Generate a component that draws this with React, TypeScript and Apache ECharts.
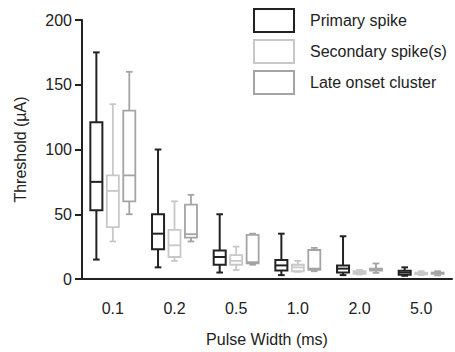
import React, { useEffect, useRef } from "react";
import * as echarts from "echarts";

const categories = ["0.1", "0.2", "0.5", "1.0", "2.0", "5.0"];
const seriesNames = ["Primary spike", "Secondary spike(s)", "Late onset cluster"];
// [min, Q1, median, Q3, max]
const primary = [
  [15, 53, 75, 121, 175],
  [9, 23, 35, 50, 100],
  [5, 11, 17, 22, 50],
  [3, 6.6, 10.5, 14.7, 35],
  [3, 5, 8, 10.5, 33],
  [2.5, 3.3, 5, 6.4, 9],
];
const secondary = [
  [29, 40, 68, 80, 135],
  [14, 17, 26, 38, 60],
  [7, 11, 14, 18.5, 25],
  [5.5, 6, 9, 11, 14],
  [3.5, 4, 5, 6, 7],
  [3, 3.5, 4.3, 5, 6],
];
const late = [
  [50, 60, 80, 130, 160],
  [29, 32, 34.6, 57.5, 65],
  [11, 12, 13, 34, 35],
  [6, 7, 8, 22.4, 24],
  [4.7, 6.5, 7, 8, 12],
  [2.8, 4, 4.5, 5, 6],
];
const yTicks = [0, 50, 100, 150, 200];

const colors = ["#222222", "#c8c8c8", "#a4a4a4"];
const offsets = [-0.267, 0, 0.267];
const FONT = "Liberation Sans, Arial, Helvetica, sans-serif";

function makeSeries(name: string, values: number[][], idx: number) {
  return {
    type: "custom",
    name,
    data: values.map((v, i) => [i, ...v]),
    encode: { x: 0, y: [1, 2, 3, 4, 5] },
    renderItem: (params: any, api: any) => {
      const xi = api.value(0);
      const band = api.size([1, 0])[0];
      const center = api.coord([xi, 0])[0] + offsets[idx] * band;
      const w = band * 0.195;
      const cap = w * 0.55;
      const y = (k: number) => api.coord([xi, api.value(k)])[1];
      const yMin = y(1), yQ1 = y(2), yMed = y(3), yQ3 = y(4), yMax = y(5);
      const style = {
        stroke: colors[idx],
        lineWidth: idx === 0 ? 2 : 1.8,
        fill: "none",
      };
      const ln = (x1: number, y1: number, x2: number, y2: number) => ({
        type: "line",
        shape: { x1, y1, x2, y2 },
        style,
      });
      return {
        type: "group",
        children: [
          ln(center, yMax, center, yQ3),
          ln(center, yQ1, center, yMin),
          ln(center - cap / 2, yMax, center + cap / 2, yMax),
          ln(center - cap / 2, yMin, center + cap / 2, yMin),
          {
            type: "rect",
            shape: { x: center - w / 2, y: yQ3, width: w, height: yQ1 - yQ3 },
            style,
          },
          ln(center - w / 2, yMed, center + w / 2, yMed),
        ],
      };
    },
  };
}

export default function App() {
  const ref = useRef<HTMLDivElement>(null);
  useEffect(() => {
    if (!ref.current) return;
    const chart = echarts.init(ref.current, undefined, { renderer: "svg" });
    const axisColor = "#222222";
    chart.setOption({
      animation: false,
      backgroundColor: "#ffffff",
      textStyle: { fontFamily: FONT },
      grid: { left: 82, top: 20, width: 370, height: 261 },
      legend: {
        orient: "vertical",
        left: 253,
        top: 8,
        padding: 0,
        itemWidth: 40,
        itemHeight: 23,
        itemGap: 6,
        selectedMode: false,
        textStyle: { fontSize: 16, color: axisColor, fontFamily: FONT, padding: [0, 0, 0, 11] },
        data: seriesNames.map((n, i) => ({
          name: n,
          icon: "rect",
          itemStyle: { color: "#ffffff", borderColor: colors[i], borderWidth: 2 },
        })),
      },
      xAxis: {
        type: "category",
        data: categories,
        name: "Pulse Width (ms)",
        nameLocation: "middle",
        nameGap: 52,
        nameTextStyle: { fontSize: 16, color: axisColor, fontFamily: FONT },
        axisLine: { lineStyle: { color: axisColor, width: 2 } },
        axisTick: { alignWithLabel: true, length: 8, lineStyle: { color: axisColor, width: 2 } },
        axisLabel: { fontSize: 16, color: axisColor, margin: 21, fontFamily: FONT },
      },
      yAxis: {
        type: "value",
        min: yTicks[0],
        max: yTicks[yTicks.length - 1],
        interval: 50,
        name: "Threshold (µA)",
        nameLocation: "middle",
        nameGap: 54,
        nameTextStyle: { fontSize: 16, color: axisColor, fontFamily: FONT },
        axisLine: { show: true, lineStyle: { color: axisColor, width: 2 } },
        axisTick: { show: true, length: 7, lineStyle: { color: axisColor, width: 2 } },
        axisLabel: { fontSize: 16, color: axisColor, margin: 10, fontFamily: FONT },
        splitLine: { show: false },
      },
      series: [
        makeSeries(seriesNames[0], primary, 0),
        makeSeries(seriesNames[1], secondary, 1),
        makeSeries(seriesNames[2], late, 2),
      ],
    });
    return () => chart.dispose();
  }, []);
  return (
    <div
      ref={ref}
      style={{ position: "fixed", left: 0, top: 0, width: 455, height: 352 }}
    />
  );
}
